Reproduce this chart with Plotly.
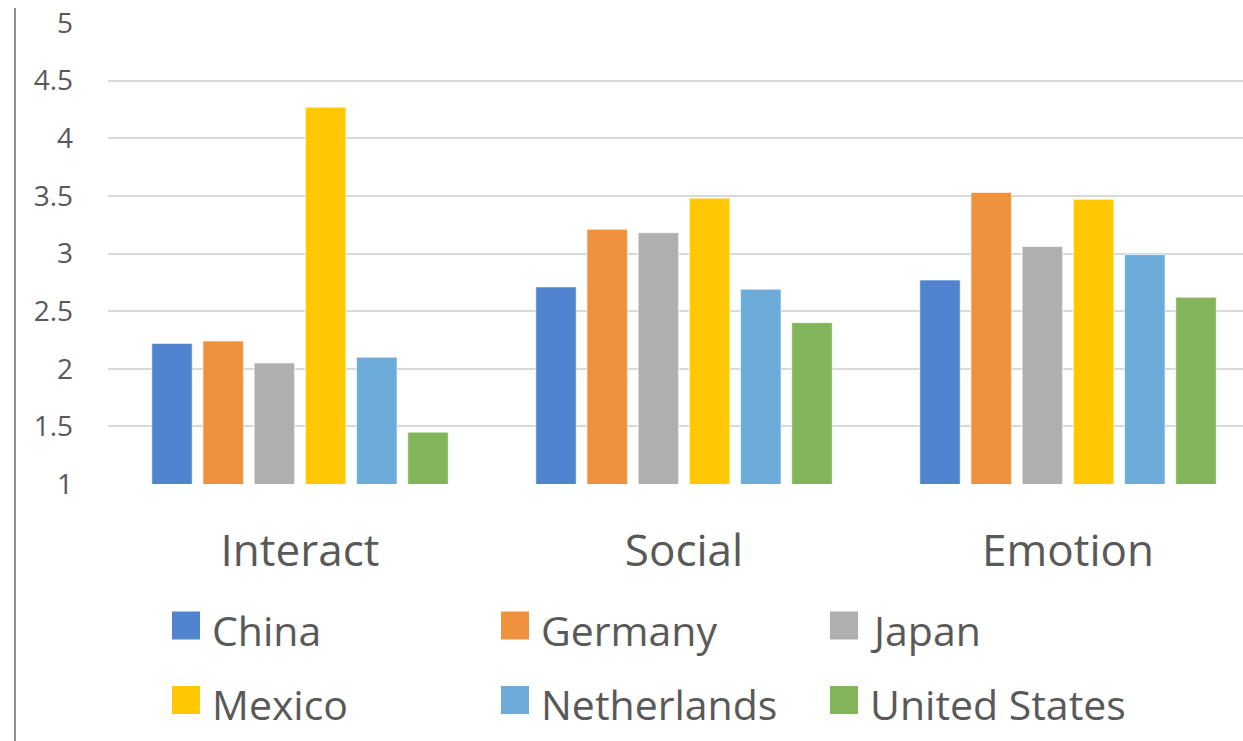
import plotly.graph_objects as go

categories = ["Interact", "Social", "Emotion"]
countries = ["China", "Germany", "Japan", "Mexico", "Netherlands", "United States"]
china = [2.22, 2.71, 2.77]
germany = [2.24, 3.21, 3.53]
japan = [2.05, 3.18, 3.06]
mexico = [4.27, 3.48, 3.47]
netherlands = [2.10, 2.69, 2.99]
united_states = [1.45, 2.40, 2.62]
series = [china, germany, japan, mexico, netherlands, united_states]
colors = ["#5183CE", "#F0913D", "#AFAFAF", "#FFC800", "#6CABDA", "#82B45A"]
y_ticks = [1, 1.5, 2, 2.5, 3, 3.5, 4, 4.5, 5]
y_tick_text = ["1", "1.5", "2", "2.5", "3", "3.5", "4", "4.5", "5"]

W, H = 1243, 741
ML, MR, MT, MB = 108, 0, 23, 257
PW, PH = W - ML - MR, H - MT - MB
FONT = "Open Sans"
TXT = "#595959"

def px_x(px):
    return (px - ML) / PW

def px_y(py):
    return (H - MB - py) / PH

fig = go.Figure()
for name, vals, col in zip(countries, series, colors):
    fig.add_trace(go.Bar(
        x=categories, y=vals, name=name,
        marker=dict(color=col, line=dict(color="rgba(255,255,255,0.6)", width=1)),
        showlegend=False,
    ))

shapes = []
annotations = []
# manual legend: 3 columns x 2 rows
col_x = [172, 501, 830]
row_y = [625.5, 700]
sq = 28
for i, (name, col) in enumerate(zip(countries, colors)):
    cx = col_x[i % 3]
    cy = row_y[i // 3]
    shapes.append(dict(type="rect", xref="paper", yref="paper",
                       x0=px_x(cx), x1=px_x(cx + sq),
                       y0=px_y(cy + sq / 2), y1=px_y(cy - sq / 2),
                       fillcolor=col, line=dict(width=0)))
    annotations.append(dict(xref="paper", yref="paper", x=px_x(cx + sq + 10), y=px_y(cy + 4),
                            text=name, showarrow=False, xanchor="left", yanchor="middle",
                            font=dict(family=FONT, size=41, color=TXT)))

# thin left border line of the original image
shapes.append(dict(type="line", xref="paper", yref="paper",
                   x0=px_x(15), x1=px_x(15), y0=px_y(8), y1=px_y(741),
                   line=dict(color="#6b6b6b", width=1.5)))

fig.update_layout(
    width=W, height=H,
    margin=dict(l=ML, r=MR, t=MT, b=MB, pad=0),
    paper_bgcolor="white", plot_bgcolor="white",
    barmode="group", bargap=0.2, bargroupgap=0.21,
    shapes=shapes, annotations=annotations,
    xaxis=dict(type="category", range=[-0.5, 2.5 - 17 / 384],
               showgrid=False, showline=False, zeroline=False,
               ticks="", ticklabelstandoff=37,
               tickfont=dict(family=FONT, size=44, color=TXT)),
    yaxis=dict(range=[1, 5], tickvals=y_ticks, ticktext=y_tick_text,
               showgrid=True, gridcolor="#d9d9d9", gridwidth=1.5,
               zeroline=False, showline=False, ticks="",
               ticklabelstandoff=34,
               tickfont=dict(family=FONT, size=28, color=TXT)),
)

fig.write_html("out.html")
